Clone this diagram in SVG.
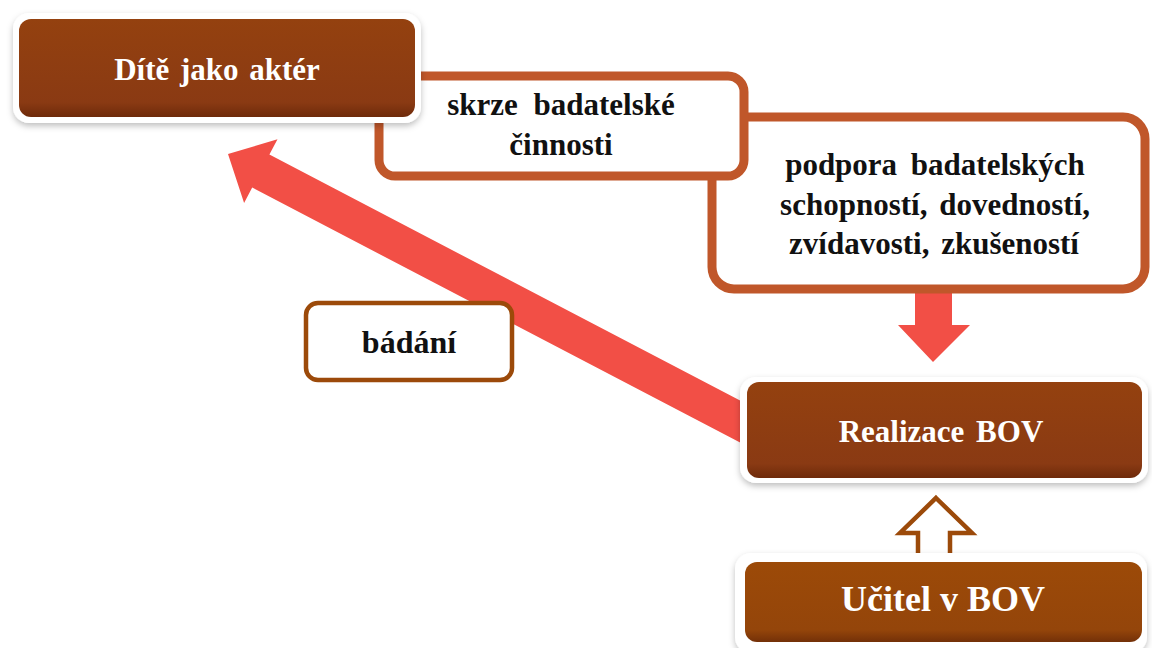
<svg xmlns="http://www.w3.org/2000/svg" width="1152" height="648" viewBox="0 0 1152 648">
  <defs>
    <linearGradient id="brown" x1="0" y1="0" x2="0" y2="1">
      <stop offset="0" stop-color="#94410F"/>
      <stop offset="0.85" stop-color="#8A3A13"/>
      <stop offset="1" stop-color="#6E2A0A"/>
    </linearGradient>
    <linearGradient id="brown2" x1="0" y1="0" x2="0" y2="1">
      <stop offset="0" stop-color="#9C4A08"/>
      <stop offset="0.85" stop-color="#94450A"/>
      <stop offset="1" stop-color="#733008"/>
    </linearGradient>
    <filter id="sh" x="-10%" y="-20%" width="120%" height="150%">
      <feDropShadow dx="0" dy="3" stdDeviation="3" flood-color="#000" flood-opacity="0.25"/>
    </filter>
    <style>
      .w { fill: #fff; filter: url(#sh); }
      .b { fill: url(#brown); }
      .b2 { fill: url(#brown2); }
      .ob { fill: #fff; stroke: #C0572A; stroke-width: 9; }
      .bb { fill: #fff; stroke: #9C4A0A; stroke-width: 4.5; }
      .red { fill: #F24F46; }
      .tw { font-family: "Liberation Serif", "Times New Roman", serif; font-weight: bold; fill: #fff; text-anchor: middle; }
      .tk { font-family: "Liberation Serif", "Times New Roman", serif; font-weight: bold; fill: #111; text-anchor: middle; }
    </style>
  </defs>

  <g id="connectors">
    <polygon class="red" points="228,154 277.5,139.2 269.4,154.6 770,416.2 770,458.2 252.2,187.6 244.1,203"/>
    <polygon class="red" points="915,293 952,293 952,325 970,325 933,362 898,325 915,325"/>
    <polygon class="bb" points="936,498 972,533 950,533 950,560 918,560 918,533 900,533"/>
  </g>

  <g id="podpora">
    <rect class="ob" x="712" y="117" width="433" height="172" rx="22"/>
    <text class="tk" font-size="31" x="935" y="175" word-spacing="6">podpora badatelských</text>
    <text class="tk" font-size="31" x="935" y="215" word-spacing="4">schopností, dovedností,</text>
    <text class="tk" font-size="31" x="934" y="254" word-spacing="4">zvídavosti, zkušeností</text>
  </g>

  <g id="skrze">
    <rect class="ob" x="379" y="76" width="365" height="100" rx="16"/>
    <text class="tk" font-size="31" x="561" y="115" word-spacing="8">skrze badatelské</text>
    <text class="tk" font-size="31" x="561" y="155">činnosti</text>
  </g>

  <g id="dite">
    <rect class="w" x="13" y="13" width="408" height="110" rx="16"/>
    <rect class="b" x="19" y="19" width="396" height="98" rx="12"/>
    <text class="tw" font-size="31" x="217" y="80" word-spacing="3">Dítě jako aktér</text>
  </g>

  <g id="badani">
    <rect class="bb" x="306" y="303" width="206" height="77" rx="12"/>
    <text class="tk" font-size="32" x="409" y="353">bádání</text>
  </g>

  <g id="realizace">
    <rect class="w" x="740" y="377" width="408" height="106" rx="16"/>
    <rect class="b" x="747" y="382" width="395" height="96" rx="12"/>
    <text class="tw" font-size="31" x="941" y="442" word-spacing="4">Realizace BOV</text>
  </g>

  <g id="ucitel">
    <rect class="w" x="735" y="553" width="412" height="100" rx="16"/>
    <rect class="b2" x="745" y="562" width="397" height="80" rx="12"/>
    <text class="tw" font-size="36" x="943" y="611">Učitel v BOV</text>
  </g>
</svg>
